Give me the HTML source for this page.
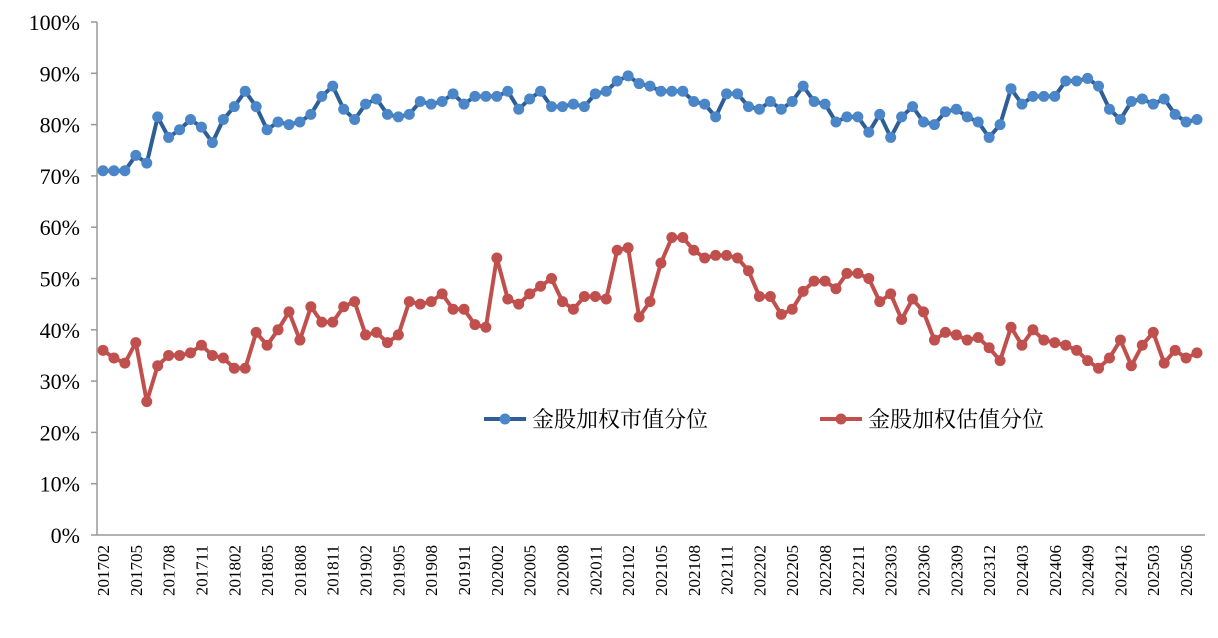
<!DOCTYPE html>
<html><head><meta charset="utf-8"><style>
body{margin:0;background:#fff;}
svg text{font-family:"Liberation Serif","Noto Serif CJK SC",serif;fill:#000;}
</style></head><body>
<svg id="chart" width="1218" height="633" xmlns="http://www.w3.org/2000/svg">
<g id="axes"></g><g id="series"></g>
<g>
<g>
<line x1="484" y1="419" x2="526" y2="419" stroke="#2E5E96" stroke-width="4"/>
<circle cx="505" cy="419" r="5.5" fill="#4A86C8"/>
<text x="532" y="427" font-size="22" style="font-family:'Noto Serif CJK SC',serif">金股加权市值分位</text>
</g>
<g>
<line x1="820" y1="419" x2="862" y2="419" stroke="#C0504D" stroke-width="4"/>
<circle cx="841" cy="419" r="5.5" fill="#C0504D"/>
<text x="868" y="427" font-size="22" style="font-family:'Noto Serif CJK SC',serif">金股加权估值分位</text>
</g>
</g>
</svg>
<script>
const marketCap=[71,71,71,74,72.5,81.5,77.5,79,81,79.5,76.5,
81,83.5,86.5,83.5,79,80.5,80,80.5,82,85.5,87.5,83,
81,84,85,82,81.5,82,84.5,84,84.5,86,84,85.5,
85.5,85.5,86.5,83,85,86.5,83.5,83.5,84,83.5,86,86.5,
88.5,89.5,88,87.5,86.5,86.5,86.5,84.5,84,81.5,86,86,
83.5,83,84.5,83,84.5,87.5,84.5,84,80.5,81.5,81.5,78.5,
82,77.5,81.5,83.5,80.5,80,82.5,83,81.5,80.5,77.5,
80,87,84,85.5,85.5,85.5,88.5,88.5,89,87.5,83,81,
84.5,85,84,85,82,80.5,81];
const valuation=[36,34.5,33.5,37.5,26,33,35,35,35.5,37,35,
34.5,32.5,32.5,39.5,37,40,43.5,38,44.5,41.5,41.5,44.5,
45.5,39,39.5,37.5,39,45.5,45,45.5,47,44,44,41,
40.5,54,46,45,47,48.5,50,45.5,44,46.5,46.5,46,
55.5,56,42.5,45.5,53,58,58,55.5,54,54.5,54.5,54,
51.5,46.5,46.5,43,44,47.5,49.5,49.5,48,51,51,50,
45.5,47,42,46,43.5,38,39.5,39,38,38.5,36.5,
34,40.5,37,40,38,37.5,37,36,34,32.5,34.5,38,
33,37,39.5,33.5,36,34.5,35.5];
const yTicks=[0,10,20,30,40,50,60,70,80,90,100];
const categories=[];
for(let y=2017;y<=2025;y++)for(let m=1;m<=12;m++){if((y===2017&&m<2)||(y===2025&&m>7)||(y===2023&&m===1))continue;categories.push(''+y+String(m).padStart(2,'0'));}
const NS='http://www.w3.org/2000/svg';
const X0=103,X1=1197,Y0=535,Y100=22;
const DX=(X1-X0)/(categories.length-1);
const xs=i=>X0+i*DX;
const ys=v=>Y0-(Y0-Y100)*v/100;
function mk(tag,attrs,parent){const e=document.createElementNS(NS,tag);for(const k in attrs)e.setAttribute(k,attrs[k]);parent.appendChild(e);return e;}
const axes=document.getElementById('axes');
const yl=mk('line',{x1:97,y1:22,x2:97,y2:535,stroke:'#999','stroke-width':1.5},axes);


const xl=mk('line',{x1:97,y1:535,x2:1205,y2:535,stroke:'#999','stroke-width':1.5},axes);


yTicks.forEach(t=>{
 mk('line',{x1:91,y1:ys(t),x2:97,y2:ys(t),stroke:'#999','stroke-width':1.5},axes);
 const tx=mk('text',{x:80,y:ys(t)+8,'text-anchor':'end','font-size':22},axes);
 tx.textContent=t+'%';
 
 
});
categories.forEach((c,i)=>{
 if(i%3!==0)return;
 const x=xs(i);
 const tx=mk('text',{x:0,y:0,'text-anchor':'end','font-size':17,transform:`translate(${x+6},545) rotate(-90)`},axes);
 tx.textContent=c;
 
 
});
const ser=document.getElementById('series');
function draw(vals,line,dot,name){
 const g=mk('g',{},ser);
 
 
 const pts=vals.map((v,i)=>xs(i).toFixed(1)+','+ys(v).toFixed(1)).join(' ');
 const pl=mk('polyline',{points:pts,fill:'none',stroke:line,'stroke-width':4,'stroke-linejoin':'round'},g);
 
 
 vals.forEach((v,i)=>{
  const c=mk('circle',{cx:xs(i),cy:ys(v),r:5.5,fill:dot},g);
  
  
 });
}
draw(marketCap,'#2E5E96','#4A86C8','market-cap-series');
draw(valuation,'#C0504D','#C0504D','valuation-series');
</script>
</body></html>
